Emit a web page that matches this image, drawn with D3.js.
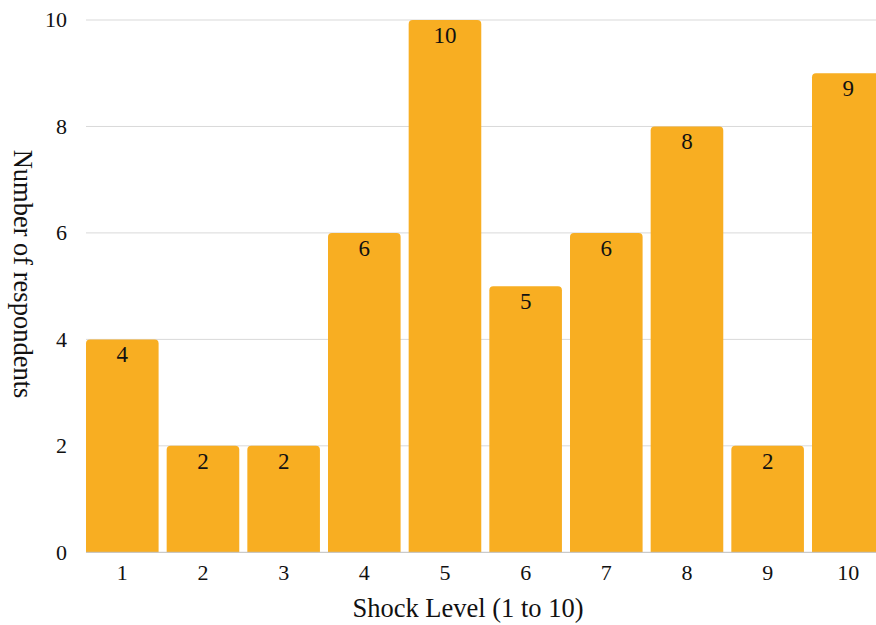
<!DOCTYPE html>
<html><head><meta charset="utf-8">
<script src="https://cdn.jsdelivr.net/npm/d3@7"></script>
<style>body{margin:0;background:#fff}svg{display:block}text{font-family:"Liberation Serif","Times New Roman",serif;fill:#111}</style>
</head><body>
<script>
const categories = ["1","2","3","4","5","6","7","8","9","10"];
const values = [4,2,2,6,10,5,6,8,2,9];
const yTicks = [0,2,4,6,8,10];
const xTitle = "Shock Level (1 to 10)";
const yTitle = "Number of respondents";

const W = 876, H = 625;
const svg = d3.select("body").append("svg").attr("width", W).attr("height", H);
const x = d3.scaleBand().domain(categories).range([86, 884.6]).paddingInner(0.1).paddingOuter(0);
const y = d3.scaleLinear().domain([0, 10]).range([552.3, 20]);

// gridlines
svg.append("g").selectAll("line").data(yTicks.filter(d => d > 0)).join("line")
  .attr("x1", 86).attr("x2", W).attr("y1", d => y(d)).attr("y2", d => y(d))
  .attr("stroke", "#d9d9d9").attr("stroke-width", 1);

// bars with rounded top corners
const r = 4;
svg.append("g").selectAll("path").data(values).join("path")
  .attr("fill", "#F8AE22")
  .attr("d", (d, i) => {
    const x0 = x(categories[i]), w = x.bandwidth(), y0 = y(d), yb = y(0);
    return `M${x0},${yb}V${y0 + r}Q${x0},${y0} ${x0 + r},${y0}H${x0 + w - r}Q${x0 + w},${y0} ${x0 + w},${y0 + r}V${yb}Z`;
  });

// baseline
svg.append("line").attr("x1", 86).attr("x2", W).attr("y1", y(0)).attr("y2", y(0))
  .attr("stroke", "#bdbdbd").attr("stroke-width", 1);

// bar labels
svg.append("g").selectAll("text").data(values).join("text")
  .attr("x", (d, i) => x(categories[i]) + x.bandwidth() / 2)
  .attr("y", d => y(d) + 22.7)
  .attr("text-anchor", "middle").attr("font-size", 23)
  .text(d => d);

// y axis tick labels
svg.append("g").selectAll("text").data(yTicks).join("text")
  .attr("x", 67).attr("y", d => y(d) + 7.3)
  .attr("text-anchor", "end").attr("font-size", 22)
  .text(d => d);

// x axis tick labels
svg.append("g").selectAll("text").data(categories).join("text")
  .attr("x", d => x(d) + x.bandwidth() / 2).attr("y", 579.5)
  .attr("text-anchor", "middle").attr("font-size", 22)
  .text(d => d);

// axis titles
svg.append("text").attr("x", 468).attr("y", 617.3).attr("text-anchor", "middle")
  .attr("font-size", 26.5).text(xTitle);
svg.append("text").attr("transform", "translate(13.5,274) rotate(90)")
  .attr("text-anchor", "middle").attr("font-size", 26.5).text(yTitle);
</script>
</body></html>
